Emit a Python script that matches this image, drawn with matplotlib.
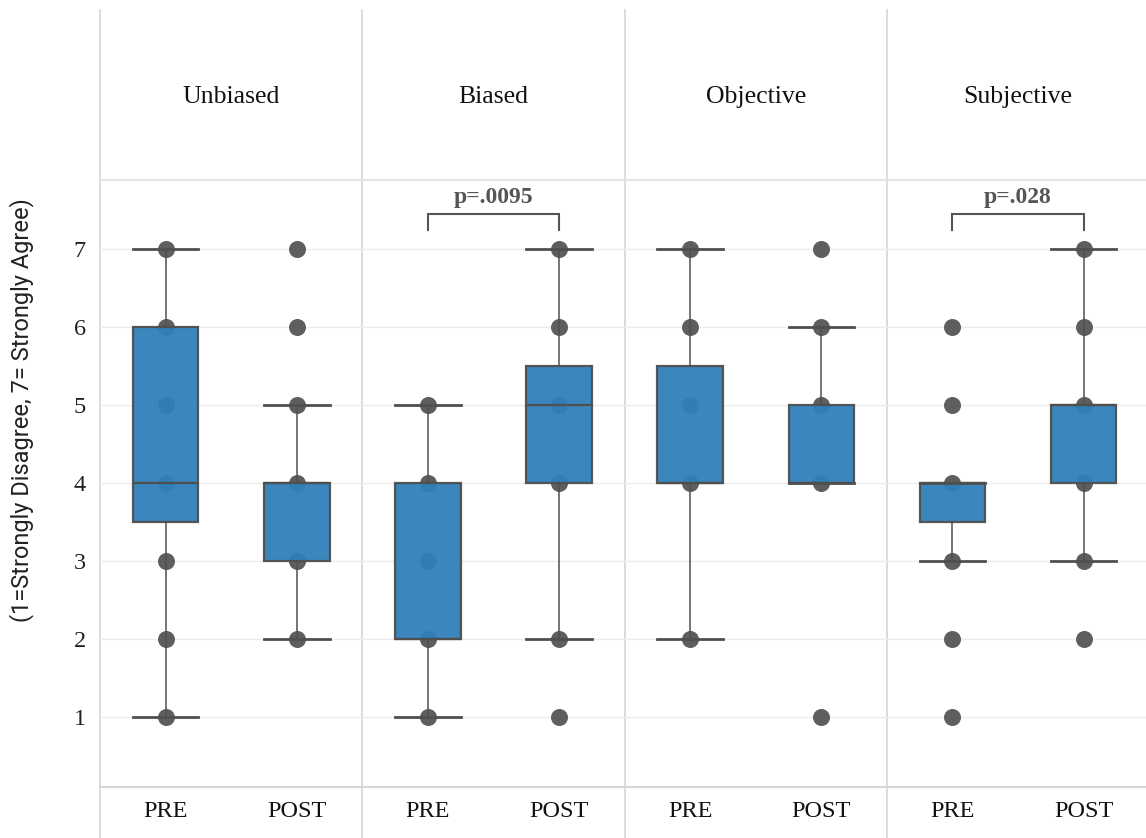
import matplotlib
matplotlib.use("Agg")
import matplotlib.pyplot as plt
from matplotlib.lines import Line2D

# ---------------- data ----------------
groups = ["Unbiased", "Biased", "Objective", "Subjective"]
conditions = ["PRE", "POST"]

pre_q1 = [3.5, 2.0, 4.0, 3.5]
pre_med = [4.0, 2.0, 4.0, 4.0]
pre_q3 = [6.0, 4.0, 5.5, 4.0]
pre_lo = [1.0, 1.0, 2.0, 3.0]
pre_hi = [7.0, 5.0, 7.0, 4.0]

post_q1 = [3.0, 4.0, 4.0, 4.0]
post_med = [4.0, 5.0, 4.0, 5.0]
post_q3 = [4.0, 5.5, 5.0, 5.0]
post_lo = [2.0, 2.0, 4.0, 3.0]
post_hi = [5.0, 7.0, 6.0, 7.0]

pre_points = [[1, 2, 3, 4, 5, 6, 7], [1, 2, 3, 4, 5], [2, 4, 5, 6, 7], [1, 2, 3, 4, 5, 6]]
post_points = [[2, 3, 4, 5, 6, 7], [1, 2, 4, 5, 6, 7], [1, 4, 5, 6, 7], [2, 3, 4, 5, 6, 7]]

pvalues = [None, "p=.0095", None, "p=.028"]
yticks = [1, 2, 3, 4, 5, 6, 7]
ylabel = "(1=Strongly Disagree, 7= Strongly Agree)"

# ---------------- layout ----------------
W, H = 1146, 838
fig = plt.figure(figsize=(W / 100, H / 100), dpi=100)
fig.patch.set_facecolor("white")

serif = ["Liberation Serif", "DejaVu Serif"]
box_color = "#2f80ba"
edge_color = "#4f4f4f"
dot_color = "#5e5e5e"
sep_color = "#d6d6d6"

left0 = 100
panel_w = 262.3
top_px, bot_px = 180, 787


def fx(px):
    return px / W


def fy(py):
    return 1 - py / H


for i, g in enumerate(groups):
    l = left0 + i * panel_w
    ax = fig.add_axes([fx(l), fy(bot_px), fx(panel_w), fy(top_px) - fy(bot_px)])
    ax.set_xlim(-0.5, 1.5)
    ax.set_ylim(0.1026, 7.885)
    for s in ax.spines.values():
        s.set_visible(False)
    ax.set_facecolor("none")
    for yv in yticks:
        ax.axhline(yv, color="#ececec", lw=1, zorder=0)

    # points
    for x, pts in ((0, pre_points[i]), (1, post_points[i])):
        ax.scatter([x] * len(pts), pts, s=150, color=dot_color, zorder=1, linewidths=0)

    stats = [
        dict(q1=pre_q1[i], med=pre_med[i], q3=pre_q3[i], whislo=pre_lo[i], whishi=pre_hi[i], fliers=[]),
        dict(q1=post_q1[i], med=post_med[i], q3=post_q3[i], whislo=post_lo[i], whishi=post_hi[i], fliers=[]),
    ]
    ax.bxp(stats, positions=[0, 1], widths=0.5, patch_artist=True, showfliers=False,
           boxprops=dict(facecolor=box_color, edgecolor=edge_color, linewidth=1.6, alpha=0.95),
           medianprops=dict(color=edge_color, linewidth=1.6),
           whiskerprops=dict(color=edge_color, linewidth=1.1),
           capprops=dict(color=edge_color, linewidth=2.0),
           capwidths=0.5, zorder=2)

    ax.set_xticks([0, 1])
    ax.set_xticklabels(conditions, fontsize=17.5, family=serif, color="#111111")
    ax.tick_params(axis="x", length=0, pad=10)
    if i == 0:
        ax.set_yticks(yticks)
        ax.set_yticklabels([str(v) for v in yticks], fontsize=17.5, family=serif, color="#222222")
        ax.tick_params(axis="y", length=0, pad=10)
    else:
        ax.set_yticks([])

    # p-value bracket
    if pvalues[i]:
        ax.plot([0, 0, 1, 1], [7.24, 7.45, 7.45, 7.24], color="#555555", lw=1.5,
                solid_joinstyle="miter", zorder=3)
        ax.text(0.5, 7.66, pvalues[i], ha="center", va="center", fontsize=17,
                family=serif, fontweight="bold", color="#555555")

    # header
    fig.text(fx(l + panel_w / 2), fy(97), g, ha="center", va="center", fontsize=18.5,
             family=serif, color="#111111")

# y-axis label
fig.text(fx(22), fy(410), ylabel, rotation=90, ha="center", va="center", fontsize=17,
         family=["Roboto", "DejaVu Sans"], color="#222222")

# separator lines
for i in range(4):
    x = fx(left0 + i * panel_w)
    fig.add_artist(Line2D([x, x], [fy(10), 0], color=sep_color, lw=1.2, zorder=0))
fig.add_artist(Line2D([fx(left0), 1], [fy(top_px), fy(top_px)], color="#e4e4e4", lw=1.5, zorder=0))
fig.add_artist(Line2D([fx(left0), 1], [fy(bot_px), fy(bot_px)], color=sep_color, lw=1.5, zorder=0))

fig.savefig("out.png", dpi=100, facecolor="white")
